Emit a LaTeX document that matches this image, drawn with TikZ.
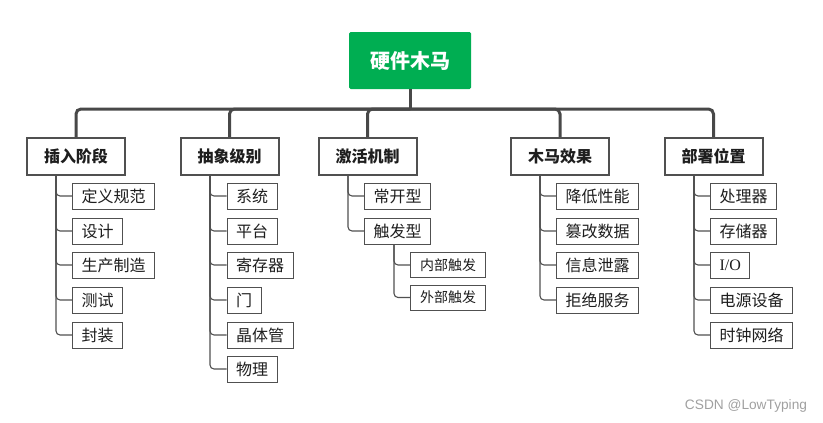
\documentclass[tikz,border=0pt]{standalone}
\usepackage{fontspec}
\setmainfont{Noto Sans CJK SC}
\newfontfamily\serifio{Liberation Serif}
\newfontfamily\wmfont{Liberation Sans}
\definecolor{rootgreen}{RGB}{0,174,82}
\definecolor{linegray}{RGB}{72,72,72}
\definecolor{boxgray}{RGB}{80,80,80}
\definecolor{txt}{RGB}{30,30,30}
\definecolor{wm}{RGB}{160,160,160}
\tikzset{
  rootbox/.style={fill=rootgreen, draw=none, rounded corners=1.5pt, text=white,
    font=\fontsize{20}{24}\selectfont\bfseries, minimum width=122pt, minimum height=57pt, inner sep=0pt},
  catbox/.style={draw=boxgray, line width=2pt, fill=white, text=txt,
    font=\fontsize{16}{19}\selectfont\bfseries, minimum width=98pt, minimum height=37pt, inner sep=0pt},
  leafbox/.style={draw=boxgray, line width=1pt, fill=white, text=txt, anchor=west,
    font=\fontsize{16}{19}\selectfont, minimum height=26pt, inner xsep=9pt, inner ysep=0pt},
  subleaf/.style={leafbox, font=\fontsize{14}{17}\selectfont, minimum height=25pt, inner xsep=9.5pt},
  trunk/.style={draw=linegray, line width=3pt, rounded corners=5pt},
  conn/.style={draw=boxgray, line width=1.1pt, rounded corners=4pt},
}
\begin{document}
\begin{tikzpicture}[x=1pt,y=-1pt]
\useasboundingbox (0,0) rectangle (823,423);
% root
\node[rootbox] (root) at (410,60.5) {硬件木马};
\coordinate (bus) at (410,109);
% categories
\node[catbox] (c1) at (76,156.4) {插入阶段};
\node[catbox] (c2) at (229.5,156.4) {抽象级别};
\node[catbox] (c3) at (367.5,156.4) {激活机制};
\node[catbox] (c4) at (560,156.4) {木马效果};
\node[catbox] (c5) at (713.5,156.4) {部署位置};
% trunk
\draw[trunk, rounded corners=0pt] (root.south) -- (bus);
\foreach \c in {c1,c2,c3,c4,c5} {
  \draw[trunk] (bus) -| (\c.north);
}
% children of c1
\node[leafbox] (a1) at (72,196) {定义规范};
\node[leafbox] (a2) at (72,231) {设计};
\node[leafbox] (a3) at (72,265) {生产制造};
\node[leafbox] (a4) at (72,300) {测试};
\node[leafbox] (a5) at (72,335) {封装};
% children of c2
\node[leafbox] (b1) at (226.5,196) {系统};
\node[leafbox] (b2) at (226.5,231) {平台};
\node[leafbox] (b3) at (226.5,265) {寄存器};
\node[leafbox] (b4) at (226.5,300) {门};
\node[leafbox] (b5) at (226.5,335) {晶体管};
\node[leafbox] (b6) at (226.5,369) {物理};
% children of c3
\node[leafbox] (d1) at (364,196) {常开型};
\node[leafbox] (d2) at (364,231) {触发型};
\node[subleaf] (e1) at (410,265) {内部触发};
\node[subleaf] (e2) at (410,297.5) {外部触发};
% children of c4
\node[leafbox] (f1) at (556,196) {降低性能};
\node[leafbox] (f2) at (556,231) {篡改数据};
\node[leafbox] (f3) at (556,265) {信息泄露};
\node[leafbox] (f4) at (556,300) {拒绝服务};
% children of c5
\node[leafbox] (g1) at (710,196) {处理器};
\node[leafbox] (g2) at (710,231) {存储器};
\node[leafbox, font=\fontsize{16}{19}\selectfont\serifio] (g3) at (710,265) {I/O};
\node[leafbox] (g4) at (710,300) {电源设备};
\node[leafbox] (g5) at (710,335) {时钟网络};
% connectors
\foreach \k in {a1,a2,a3,a4,a5} \draw[conn] ([xshift=30pt]c1.south west) |- (\k.west);
\foreach \k in {b1,b2,b3,b4,b5,b6} \draw[conn] ([xshift=30.5pt]c2.south west) |- (\k.west);
\foreach \k in {d1,d2} \draw[conn] ([xshift=30.5pt]c3.south west) |- (\k.west);
\foreach \k in {e1,e2} \draw[conn] ([xshift=30pt]d2.south west) |- (\k.west);
\foreach \k in {f1,f2,f3,f4} \draw[conn] ([xshift=30pt]c4.south west) |- (\k.west);
\foreach \k in {g1,g2,g3,g4,g5} \draw[conn] ([xshift=30.5pt]c5.south west) |- (\k.west);
% watermark
\node[text=wm, font=\fontsize{13.7}{16}\selectfont\wmfont] (wmark) at (746,406) {CSDN @LowTyping};
\end{tikzpicture}
\end{document}
